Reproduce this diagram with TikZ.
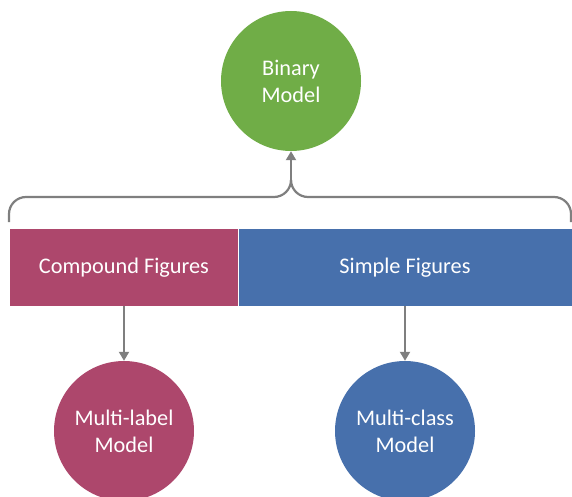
\documentclass[tikz,border=0pt]{standalone}
\usepackage{fontspec}
\setmainfont{Carlito}
\usetikzlibrary{arrows.meta}
\definecolor{cgreen}{HTML}{70AD47}
\definecolor{cred}{HTML}{AD476C}
\definecolor{cblue}{HTML}{4770AC}
\definecolor{cgray}{HTML}{7F7F7F}
\begin{document}
\begin{tikzpicture}[x=1pt,y=-1pt,
  model/.style={circle, minimum size=140pt, inner sep=0pt, text=white,
    font=\fontsize{22.3}{27}\selectfont, align=center},
  band/.style={minimum height=77pt, inner sep=0pt, text=white,
    font=\fontsize{22.3}{26}\selectfont},
  conn/.style={draw=cgray, line width=2pt, -{Triangle[length=9pt,width=10pt]}},
  brace/.style={draw=cgray, line width=2.2pt, rounded corners=17pt}]
\useasboundingbox (0,0) rectangle (572,497);
\node[model, fill=cgreen] (bin) at (291,81) {Binary\\Model};
\node[band, fill=cred, minimum width=228pt] (comp) at (124,267.5) {Compound Figures};
\node[band, fill=cblue, minimum width=334pt] (simp) at (405,267.5) {Simple Figures};
\draw[white, line width=1pt] (comp.north east) -- (comp.south east);
\node[model, fill=cred] (ml) at (124,431) {Multi-label\\Model};
\node[model, fill=cblue] (mc) at (405,431) {Multi-class\\Model};
\coordinate (cusp) at (291,180);
\coordinate (bl) at (9,222);
\coordinate (br) at (571,222);
\draw[brace] (bl) |- (cusp |- 0,197) -- (cusp);
\draw[brace] (br) |- (cusp |- 0,197) -- (cusp);
\draw[conn] (cusp) -- (bin.south);
\draw[conn] (comp.south) -- (ml.north);
\draw[conn] (simp.south) -- (mc.north);
\end{tikzpicture}
\end{document}
